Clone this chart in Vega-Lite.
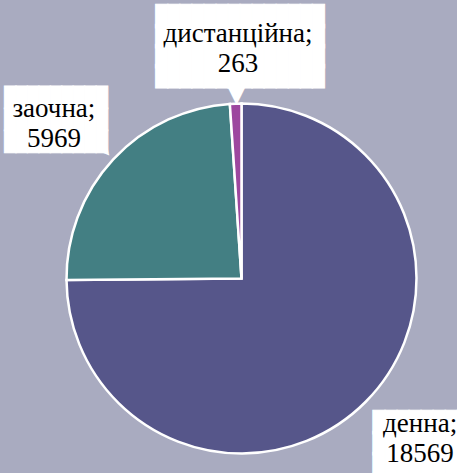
{
  "$schema": "https://vega.github.io/schema/vega-lite/v6.json",
  "width": 431,
  "height": 389,
  "autosize": {"type": "none"},
  "padding": {"left": 26, "top": 84, "right": 0, "bottom": 0},
  "background": "#a9abc0",
  "view": {"stroke": null},
  "data": {
    "values": [
      {"category": "денна", "value": 18569, "order": 1},
      {"category": "заочна", "value": 5969, "order": 2},
      {"category": "дистанційна", "value": 263, "order": 3}
    ]
  },
  "transform": [
    {"stack": "value", "groupby": [], "sort": [{"field": "order", "order": "ascending"}], "as": ["v0", "v1"]},
    {"calculate": "(datum.v0 + datum.v1) / 2", "as": "mid"},
    {"calculate": "[datum.category + ';', '' + datum.value]", "as": "label"}
  ],
  "layer": [
    {
      "mark": {"type": "arc", "outerRadius": 175, "stroke": "white", "strokeWidth": 2.5},
      "encoding": {
        "theta": {"field": "v1", "type": "quantitative"},
        "theta2": {"field": "v0"},
        "color": {
          "field": "category",
          "type": "nominal",
          "scale": {"domain": ["денна", "заочна", "дистанційна"], "range": ["#56568a", "#437f83", "#9d479f"]},
          "legend": null
        }
      }
    },
    {
      "transform": [{"filter": "datum.category === 'дистанційна'"}],
      "mark": {"type": "text", "font": "DejaVu Sans", "fontSize": 24, "color": "white", "radius": 240, "dx": 3, "dy": 63, "align": "center", "baseline": "alphabetic"},
      "encoding": {
        "theta": {"field": "mid", "type": "quantitative"},
        "text": {"value": "▼"}
      }
    },
    {
      "transform": [{"filter": "datum.category === 'заочна'"}],
      "mark": {"type": "text", "font": "DejaVu Sans", "fontSize": 14, "color": "white", "radius": 240, "dx": 7.5, "dy": 53.3, "angle": -40, "align": "center", "baseline": "middle"},
      "encoding": {
        "theta": {"field": "mid", "type": "quantitative"},
        "text": {"value": "▼"}
      }
    },
    {
      "transform": [{"filter": "datum.category === 'дистанційна'"}],
      "mark": {"type": "text", "font": "DejaVu Sans Mono", "fontSize": 20, "lineHeight": 20.2, "color": "white", "stroke": "white", "strokeWidth": 1, "radius": 240, "dx": 6.5, "dy": -16, "align": "center", "baseline": "alphabetic"},
      "encoding": {
        "theta": {"field": "mid", "type": "quantitative"},
        "text": {"value": ["██████████████", "██████████████", "██████████████", "██████████████"]}
      }
    },
    {
      "transform": [{"filter": "datum.category === 'заочна'"}],
      "mark": {"type": "text", "font": "DejaVu Sans Mono", "fontSize": 19, "lineHeight": 21.9, "color": "white", "stroke": "white", "strokeWidth": 1, "radius": 240, "dx": -9.7, "dy": -11.4, "align": "center", "baseline": "alphabetic"},
      "encoding": {
        "theta": {"field": "mid", "type": "quantitative"},
        "text": {"value": ["█████████", "█████████", "█████████"]}
      }
    },
    {
      "transform": [{"filter": "datum.category === 'денна'"}],
      "mark": {"type": "text", "font": "DejaVu Sans Mono", "fontSize": 20, "lineHeight": 21, "color": "white", "stroke": "white", "strokeWidth": 1, "radius": 240, "dx": 9.2, "dy": -19, "align": "center", "baseline": "alphabetic"},
      "encoding": {
        "theta": {"field": "mid", "type": "quantitative"},
        "text": {"value": ["████████", "████████", "████████", "████████"]}
      }
    },
    {
      "transform": [{"filter": "datum.category === 'дистанційна'"}],
      "mark": {"type": "text", "font": "Liberation Serif", "fontSize": 27, "lineHeight": 30, "color": "black", "radius": 240, "dx": 4.5, "dy": 3.4, "align": "center", "baseline": "alphabetic"},
      "encoding": {"theta": {"field": "mid", "type": "quantitative"}, "text": {"field": "label"}}
    },
    {
      "transform": [{"filter": "datum.category === 'заочна'"}],
      "mark": {"type": "text", "font": "Liberation Serif", "fontSize": 27, "lineHeight": 30, "color": "black", "radius": 240, "dx": -11.7, "dy": 1.9, "align": "center", "baseline": "alphabetic"},
      "encoding": {"theta": {"field": "mid", "type": "quantitative"}, "text": {"field": "label"}}
    },
    {
      "transform": [{"filter": "datum.category === 'денна'"}],
      "mark": {"type": "text", "font": "Liberation Serif", "fontSize": 27, "lineHeight": 30, "color": "black", "radius": 240, "dx": 8.2, "dy": -15.6, "align": "center", "baseline": "alphabetic"},
      "encoding": {"theta": {"field": "mid", "type": "quantitative"}, "text": {"field": "label"}}
    }
  ]
}
